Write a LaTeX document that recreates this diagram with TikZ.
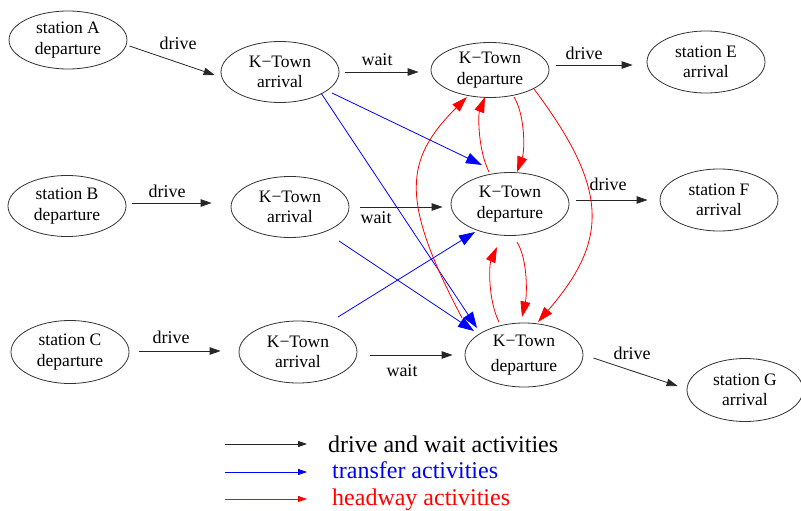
\documentclass[tikz,border=0pt]{standalone}
\usepackage{fontspec}
\setmainfont{Liberation Serif}
\newfontfamily\tms{Liberation Serif}
\usetikzlibrary{arrows.meta,shapes.geometric}
\begin{document}
\begin{tikzpicture}[x=1pt,y=-1pt,
  ev/.style={ellipse, draw=black!80, line width=0.8pt, inner sep=0pt,
    minimum width=118pt, minimum height=61pt, align=center,
    font=\tms\fontsize{17.5}{20.5}\selectfont},
  lbl/.style={inner sep=0pt, font=\tms\fontsize{18}{20}\selectfont},
  leg/.style={inner sep=0pt, anchor=base west, font=\tms\fontsize{24}{26}\selectfont},
  act/.style={draw=black!85, line width=0.8pt, -{Triangle[length=11pt,width=7.5pt]}},
  trf/.style={draw=blue, line width=0.8pt, -{Triangle[length=16pt,width=11pt]}},
  hdw/.style={draw=red, line width=0.8pt, -{Triangle[length=15.5pt,width=10pt]}},
  legact/.style={draw=black!85, line width=0.8pt, -{Triangle[length=9pt,width=6pt]}},
  legtrf/.style={draw=blue, line width=0.8pt, -{Triangle[length=9pt,width=6pt]}},
  leghdw/.style={draw=red, line width=0.8pt, -{Triangle[length=9pt,width=6pt]}}]
\useasboundingbox (0,0) rectangle (801,511);

% events: station departures, K-Town arrivals and departures, station arrivals
\node[ev, minimum height=58pt] (A)   at (68,40)   {station A\\departure};
\node[ev] (KA1) at (280,72)  {K−Town\\arrival};
\node[ev, minimum height=55pt] (KD1) at (490,70)  {K−Town\\departure};
\node[ev, minimum height=62pt] (E)   at (706,62)  {station E\\arrival};

\node[ev] (B)   at (67,206)  {station B\\departure};
\node[ev] (KA2) at (290,207) {K−Town\\arrival};
\node[ev, minimum height=63pt] (KD2) at (510,204) {K−Town\\departure};
\node[ev, minimum height=62pt] (F)   at (719,200) {station F\\arrival};

\node[ev, minimum height=63pt] (C)   at (70,352)  {station C\\departure};
\node[ev, minimum height=62pt] (KA3) at (298,352) {K−Town\\arrival};
\node[ev, minimum height=64pt] (KD3) at (524,355) {K−Town\\[4pt]departure};
\node[ev, minimum width=116pt, minimum height=63pt] (G) at (745,390) {station G\\arrival};

% drive and wait activities
\draw[act] ([shift={(2,6)}]A.east)    -- ([shift={(-6,3)}]KA1.west);
\draw[act] ([shift={(6,0)}]KA1.east)  -- ([shift={(-12,2)}]KD1.west);
\draw[act] ([shift={(7,-5)}]KD1.east) -- ([shift={(-14,3)}]E.west);
\draw[act] ([shift={(6,-3)}]B.east)   -- ([shift={(-19,-4)}]KA2.west);
\draw[act] ([shift={(11,0)}]KA2.east) -- ([shift={(-8,3)}]KD2.west);
\draw[act] ([shift={(7,-4)}]KD2.east) -- ([shift={(-12,0)}]F.west);
\draw[act] ([shift={(10,-1)}]C.east)  -- ([shift={(-18,-1)}]KA3.west);
\draw[act] ([shift={(13,3)}]KA3.east) -- ([shift={(-12,0)}]KD3.west);
\draw[act] ([shift={(10,3)}]KD3.east) -- ([shift={(-9,-4)}]G.west);

\node[lbl] (dA) at (178,43)  {drive};
\node[lbl] (w1) at (377,60)  {wait};
\node[lbl] (dE) at (584,53)  {drive};
\node[lbl] (dB) at (167,191) {drive};
\node[lbl] (w2) at (376,218) {wait};
\node[lbl] (dF) at (608,184) {drive};
\node[lbl] (dC) at (171,337) {drive};
\node[lbl] (w3) at (402,371) {wait};
\node[lbl] (dG) at (632,353) {drive};

% transfer activities
\draw[trf] ([shift={(52,21)}]KA1.center)  -- ([shift={(-28,-39)}]KD2.center);
\draw[trf] ([shift={(41,21)}]KA1.center)  -- ([shift={(-47,-27)}]KD3.center);
\draw[trf] ([shift={(49,34)}]KA2.center)  -- ([shift={(-50,-24)}]KD3.center);
\draw[trf] ([shift={(40,-35)}]KA3.center) -- ([shift={(-35,28)}]KD2.center);

% headway activities
\draw[hdw] ([shift={(-21,-32)}]KD2.center) .. controls (478,150) and (478,115) .. ([shift={(-5,27)}]KD1.center);
\draw[hdw] ([shift={(24,27)}]KD1.center)   .. controls (525,115) and (525,150) .. ([shift={(7,-32)}]KD2.center);
\draw[hdw] ([shift={(-25,-33)}]KD3.center) .. controls (488,300) and (489,265) .. ([shift={(-13,43)}]KD2.center);
\draw[hdw] ([shift={(7,38)}]KD2.center)    .. controls (528,260) and (527,295) .. ([shift={(-2,-38)}]KD3.center);
\draw[hdw] ([shift={(-62,-37)}]KD3.center) .. controls (400,200) and (404,160) .. ([shift={(-23,27)}]KD1.center);
\draw[hdw] ([shift={(44,19)}]KD1.center)   .. controls (609,189) and (609,240) .. ([shift={(14,-33)}]KD3.center);

% legend
\coordinate (l1s) at (225,444); \coordinate (l1e) at (307,444);
\coordinate (l2s) at (225,472); \coordinate (l2e) at (307,472);
\coordinate (l3s) at (225,499); \coordinate (l3e) at (307,499);
\draw[legact] (l1s) -- (l1e);
\draw[legtrf] (l2s) -- (l2e);
\draw[leghdw] (l3s) -- (l3e);
\node[leg] (t1) at (328,452) {drive and wait activities};
\node[leg, text=blue] (t2) at (332,478) {transfer activities};
\node[leg, text=red] (t3) at (332,505) {headway activities};
\end{tikzpicture}
\end{document}
